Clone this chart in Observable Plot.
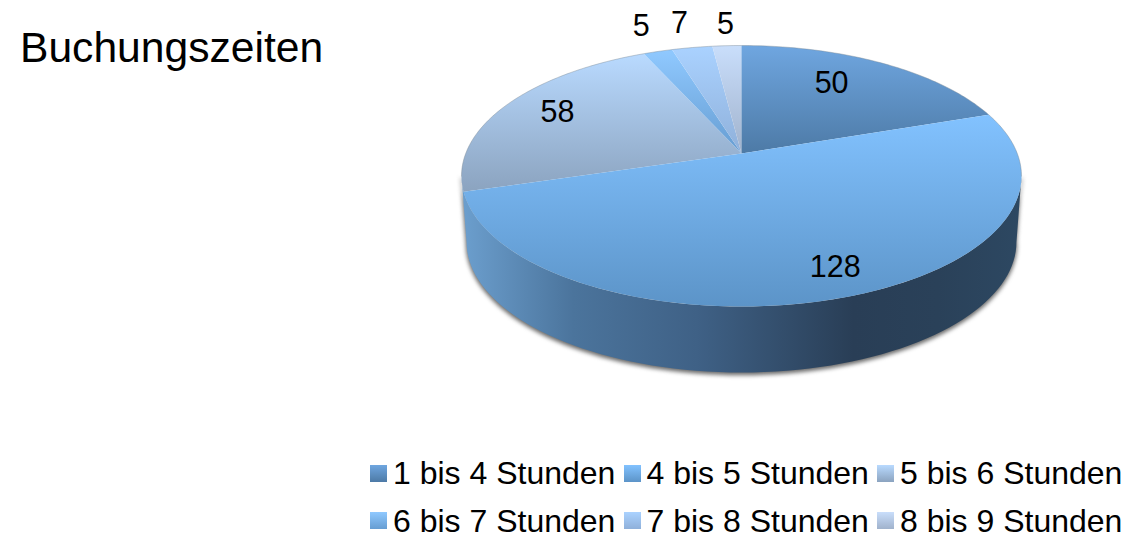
<!DOCTYPE html>
<html lang="de">
<head>
<meta charset="utf-8">
<script src="https://cdn.jsdelivr.net/npm/d3@7"></script>
<script src="https://cdn.jsdelivr.net/npm/@observablehq/plot@0.6"></script>
<style>
  html, body { margin: 0; padding: 0; background: #fff; overflow: hidden; }
  body { position: relative; width: 1130px; height: 539px; font-family: "Liberation Sans", Arial, sans-serif; color: #000; }
  #title { position: absolute; left: 20px; top: 22px; margin: 0; font-size: 42.6px; font-weight: 400; line-height: 50px; }
  #chart svg { display: block; }
  #legend { display: grid; grid-template-columns: repeat(3, 253.5px); grid-auto-rows: 30px; row-gap: 17.5px; position: absolute; left: 370px; top: 458px; }
  .item { display: flex; align-items: center; font-size: 32px; line-height: 30px; white-space: nowrap; }
  .swatch { width: 17px; height: 17px; margin-right: 6px; flex: none; }
  .name { display: block; height: 30px; line-height: 30px; overflow: visible; }
</style>
</head>
<body>
<h1 id="title">Buchungszeiten</h1>
<div id="chart"></div>
<div id="legend"></div>
<script>
const categories = ["1 bis 4 Stunden", "4 bis 5 Stunden", "5 bis 6 Stunden", "6 bis 7 Stunden", "7 bis 8 Stunden", "8 bis 9 Stunden"];
const values = [50, 128, 58, 5, 7, 5];
const topColors = ["#6fa6e0", "#82c2ff", "#b9daff", "#90c9ff", "#aad2ff", "#c9defb"];
const bottomColors = ["#4d7aa6", "#5c94c8", "#8ba3bf", "#669dd2", "#8fb0da", "#a0b2cc"];
const wallStops = [[0, "#6c9fce"], [0.2, "#4b749c"], [0.42, "#3f6186"], [0.7, "#293e56"], [0.85, "#2a4159"], [1, "#2d4862"]];
const labelRadius = [0.71, 0.83, 0.785, 1.29, 1.277, 1.238];
const labelTurn = [-5, -3, 1.3, 0.7, -0.25, 0.3];

// Tilted-disc view: pie angle (degrees clockwise from top) and radius to chart position.
const view = {cx: 741, cy: 153, d: 275.8, a: 100.24, c: -0.1724, depth: 66, shrink: 0.982};
function project(deg, r = 1) {
  const t = deg * Math.PI / 180;
  const u = r * Math.sin(t), v = -r * Math.cos(t);
  const den = 1 + view.c * v;
  return {x: view.cx + view.d * u / den, y: (view.a * v + view.cy) / den};
}
const total = d3.sum(values);
let run = 0;
const slices = values.map((value, i) => {
  const start = run / total * 360;
  run += value;
  const end = run / total * 360;
  const pts = [{x: view.cx, y: view.cy}];
  for (const deg of d3.range(start, end, 1)) pts.push(project(deg));
  pts.push(project(end));
  return {i, value, start, end, pts};
});
// Visible side wall: front rim between the two silhouette angles.
const leftEdge = 260, rightEdge = 100;
const rim = d3.range(rightEdge, leftEdge + 1, 2).map(deg => project(deg));
const wall = rim.concat(rim.slice().reverse().map(p => ({x: view.cx + (p.x - view.cx) * view.shrink, y: p.y + view.depth})));
const backRim = d3.range(leftEdge, rightEdge + 361, 2).map(deg => project(deg));
const labels = slices.map((s, i) => ({...project((s.start + s.end) / 2 + labelTurn[i], labelRadius[i]), value: s.value}));

const defs = () => {
  const g = document.createElementNS("http://www.w3.org/2000/svg", "defs");
  g.innerHTML = slices.map((s, i) =>
    `<linearGradient id="s${i}" x1="0" y1="0" x2="0" y2="1"><stop offset="0" stop-color="${topColors[i]}"/><stop offset="1" stop-color="${bottomColors[i]}"/></linearGradient>`
  ).join("") +
  `<linearGradient id="wall" x1="0" y1="0" x2="1" y2="0">${wallStops.map(([o, c]) => `<stop offset="${o}" stop-color="${c}"/>`).join("")}</linearGradient>`;
  return g;
};

const order = [2, 3, 4, 5, 0, 1];
const plot = Plot.plot({
  width: 1130, height: 447,
  margin: 0,
  x: {domain: [0, 1130], range: [0, 1130], axis: null},
  y: {domain: [0, 447], range: [0, 447], axis: null},
  style: {background: "transparent", overflow: "visible"},
  marks: [
    defs,
    Plot.line(wall, {x: "x", y: "y", fill: "#444", fillOpacity: 0.8, stroke: "#555", strokeWidth: 1.5, strokeOpacity: 0.7, dy: 2, imageFilter: "blur(2px)"}),
    Plot.line(wall, {x: "x", y: "y", fill: "url(#wall)", stroke: "none"}),
    ...order.map(i => Plot.line(slices[i].pts, {x: "x", y: "y", fill: `url(#s${i})`, stroke: "none"})),
    Plot.line(backRim, {x: "x", y: "y", stroke: "#7f8b98", strokeWidth: 0.8, strokeOpacity: 0.55}),
    Plot.text(labels, {x: "x", y: "y", text: d => String(d.value), fontSize: 30.5, fontFamily: "Liberation Sans, Arial, sans-serif", fill: "#000", textAnchor: "middle", lineAnchor: "middle"})
  ]
});
document.getElementById("chart").append(plot);

const legend = d3.select("#legend");
categories.forEach((name, i) => {
  const item = legend.append("div").attr("class", "item");
  item.append("span").attr("class", "swatch").style("background", `linear-gradient(${topColors[i]}, ${bottomColors[i]})`);
  item.append("span").attr("class", "name").text(name);
});
</script>
</body>
</html>
